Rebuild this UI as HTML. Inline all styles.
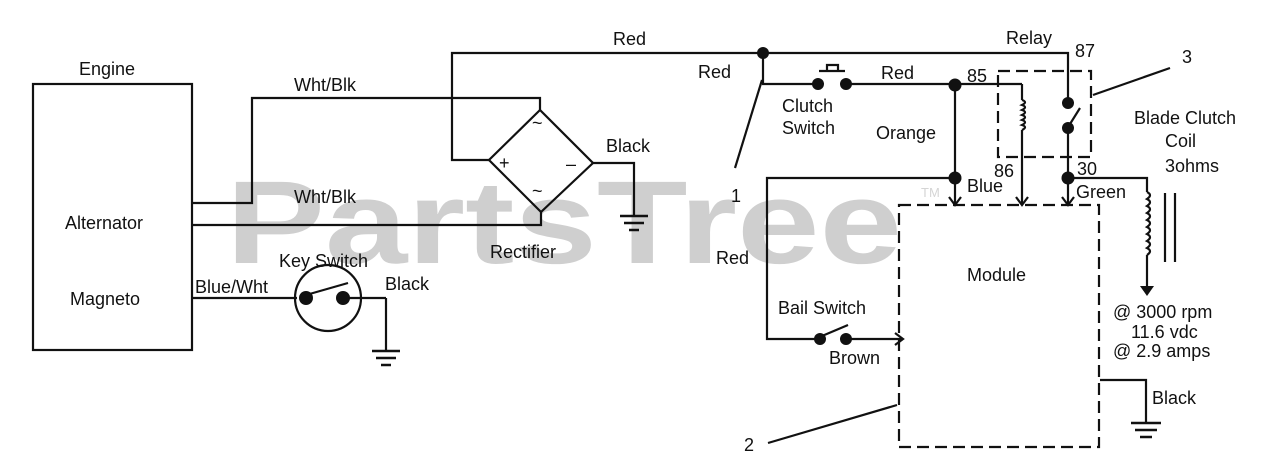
<!DOCTYPE html>
<html><head><style>
html,body{margin:0;padding:0;background:#fff;}
svg{display:block;}
text{font-family:"Liberation Sans",Arial,sans-serif;font-size:18px;fill:#111;}
</style></head><body>
<svg width="1280" height="471" viewBox="0 0 1280 471" xmlns="http://www.w3.org/2000/svg">
<!-- watermark -->
<text x="226" y="263" textLength="676" lengthAdjust="spacingAndGlyphs" style="font-size:118px;font-weight:bold;fill:#cfcfcf">PartsTree</text>
<text x="921" y="197" style="font-size:13px;fill:#d5d5d5">TM</text>

<g stroke="#111" stroke-width="2.2" fill="none">
<rect x="33" y="84" width="159" height="266"/>
<polyline points="192,203 252,203 252,98 540,98 540,110"/>
<polyline points="192,225 541,225 541,212"/>
<polygon points="540,110 593,163 541,212 489,160"/>
<polyline points="489,160 452,160 452,53 1068,53 1068,103"/>
<polyline points="593,163 634,163 634,215"/>
<circle cx="328" cy="298" r="33"/>
<line x1="192" y1="298" x2="297" y2="298"/>
<line x1="343" y1="298" x2="386" y2="298"/>
<polyline points="386,298 386,350"/>
<line x1="306" y1="295" x2="348" y2="283"/>
<polyline points="763,53 763,84 818,84"/>
<line x1="848" y1="84" x2="1022" y2="84"/>
<line x1="819" y1="71" x2="845" y2="71"/>
<polyline points="827,71 827,65 838,65 838,71"/>
<line x1="955" y1="84" x2="955" y2="205"/>
<polyline points="1022,84 1022,100"/>
<path d="M1022,100 q6,2 0,5 q6,2 0,5 q6,2 0,5 q6,2 0,5 q6,2 0,5 q6,2 0,5"/>
<line x1="1022" y1="130" x2="1022" y2="205"/>
<line x1="1068" y1="128" x2="1068" y2="205"/>
<line x1="1070" y1="124" x2="1080" y2="108"/>
<polyline points="1068,178 1147,178 1147,192"/>
<path d="M1147,192 q6,3 0,7 q6,3 0,7 q6,3 0,7 q6,3 0,7 q6,3 0,7 q6,3 0,7 q6,3 0,7 q6,3 0,7 q6,3 0,7"/>
<line x1="1147" y1="255" x2="1147" y2="288"/>
<line x1="1165" y1="193" x2="1165" y2="262"/>
<line x1="1175" y1="193" x2="1175" y2="262"/>
<polyline points="955,178 767,178 767,339 820,339"/>
<line x1="846" y1="339" x2="903" y2="339"/>
<line x1="822" y1="336" x2="848" y2="325"/>
<polyline points="1100,380 1146,380 1146,422"/>
<line x1="735" y1="168" x2="762" y2="80"/>
<line x1="768" y1="443" x2="897" y2="405"/>
<line x1="1093" y1="95" x2="1170" y2="68"/>
<polyline points="949,197 955,205 961,197"/>
<polyline points="1016,197 1022,205 1028,197"/>
<polyline points="1062,197 1068,205 1074,197"/>
<polyline points="895,333 903,339 895,345"/>
</g>
<g stroke="#111" stroke-width="2.2" fill="none" stroke-dasharray="12,6">
<rect x="998" y="71" width="93" height="86"/>
<rect x="899" y="205" width="200" height="242"/>
</g>
<g fill="#111">
<circle cx="763" cy="53" r="6"/>
<circle cx="818" cy="84" r="6"/><circle cx="846" cy="84" r="6"/>
<circle cx="955" cy="85" r="6.5"/><circle cx="955" cy="178" r="6.5"/>
<circle cx="1068" cy="103" r="6"/><circle cx="1068" cy="128" r="6"/>
<circle cx="1068" cy="178" r="6.5"/>
<circle cx="306" cy="298" r="7"/><circle cx="343" cy="298" r="7"/>
<circle cx="820" cy="339" r="6"/><circle cx="846" cy="339" r="6"/>
<polygon points="1140,286 1154,286 1147,296"/>
</g>
<g stroke="#111" stroke-width="2.5">
<line x1="620" y1="216" x2="648" y2="216"/><line x1="624" y1="223" x2="644" y2="223"/><line x1="629" y1="230" x2="639" y2="230"/>
<line x1="372" y1="351" x2="400" y2="351"/><line x1="376" y1="358" x2="396" y2="358"/><line x1="381" y1="365" x2="391" y2="365"/>
<line x1="1131" y1="423" x2="1161" y2="423"/><line x1="1135" y1="430" x2="1157" y2="430"/><line x1="1140" y1="437" x2="1152" y2="437"/>
</g>
<text x="532" y="129">~</text>
<text x="532" y="197">~</text>
<text x="499" y="169">+</text>
<text x="566" y="170">–</text>
<text x="79" y="75">Engine</text>
<text x="65" y="229">Alternator</text>
<text x="70" y="305">Magneto</text>
<text x="294" y="91">Wht/Blk</text>
<text x="294" y="203">Wht/Blk</text>
<text x="195" y="293">Blue/Wht</text>
<text x="279" y="267">Key Switch</text>
<text x="385" y="290">Black</text>
<text x="490" y="258">Rectifier</text>
<text x="606" y="152">Black</text>
<text x="613" y="45">Red</text>
<text x="698" y="78">Red</text>
<text x="881" y="79">Red</text>
<text x="782" y="112">Clutch</text>
<text x="782" y="134">Switch</text>
<text x="876" y="139">Orange</text>
<text x="967" y="82">85</text>
<text x="1006" y="44">Relay</text>
<text x="1075" y="57">87</text>
<text x="1182" y="63">3</text>
<text x="1134" y="124">Blade Clutch</text>
<text x="1165" y="147">Coil</text>
<text x="1165" y="172">3ohms</text>
<text x="994" y="177">86</text>
<text x="1077" y="175">30</text>
<text x="967" y="192">Blue</text>
<text x="1076" y="198">Green</text>
<text x="731" y="202">1</text>
<text x="716" y="264">Red</text>
<text x="967" y="281">Module</text>
<text x="778" y="314">Bail Switch</text>
<text x="829" y="364">Brown</text>
<text x="1113" y="318">@ 3000 rpm</text>
<text x="1131" y="338">11.6 vdc</text>
<text x="1113" y="357">@ 2.9 amps</text>
<text x="1152" y="404">Black</text>
<text x="744" y="451">2</text>
</svg>
</body></html>
